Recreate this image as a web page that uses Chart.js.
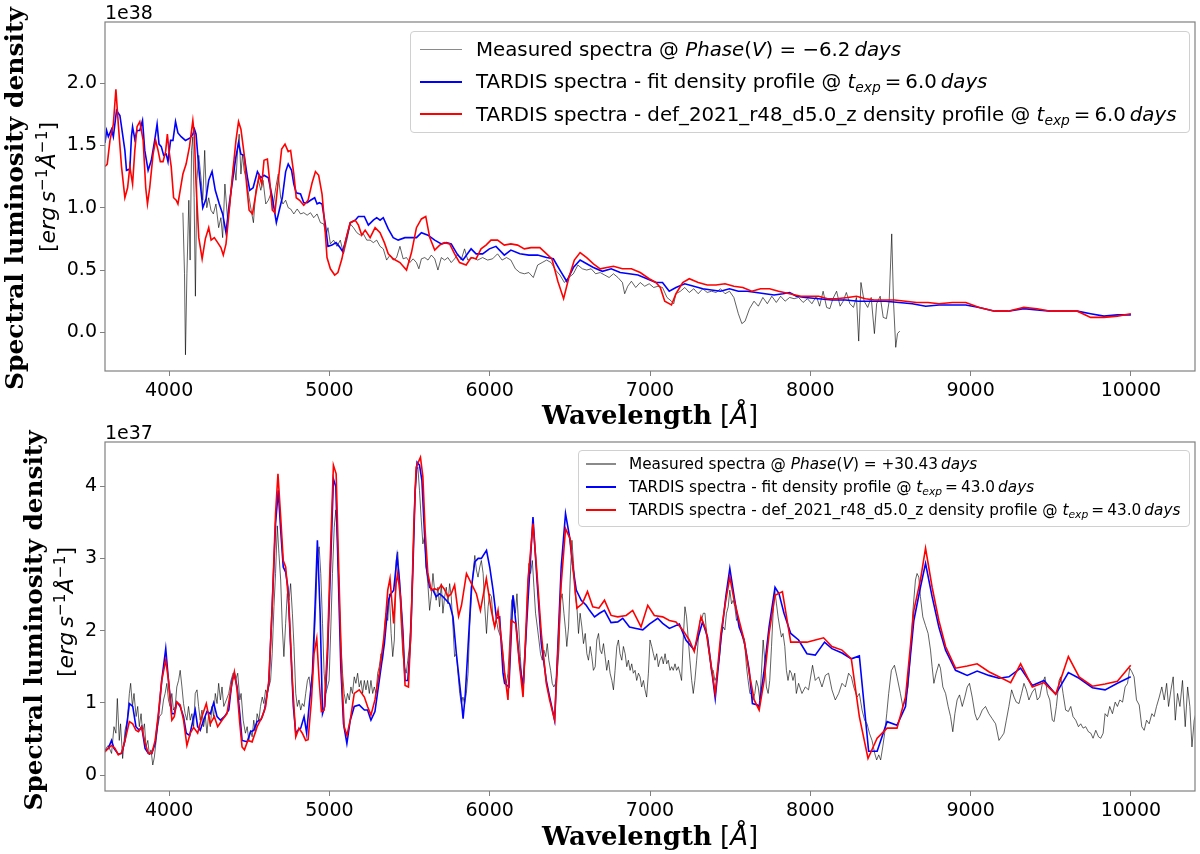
<!DOCTYPE html>
<html>
<head>
<meta charset="utf-8">
<title>TARDIS spectra comparison</title>
<script src="https://cdn.jsdelivr.net/npm/chart.js@4.4.1/dist/chart.umd.min.js"></script>
<style>
  html, body { margin: 0; padding: 0; background: #fff; }
  body { width: 1200px; height: 854px; position: relative; overflow: hidden;
         font-family: "DejaVu Sans", sans-serif; color: #000; }
  canvas { position: absolute; left: 0; }
  .legend { position: absolute; border: 1px solid #d0d0d0; border-radius: 4px;
            background: rgba(255,255,255,0.8); box-sizing: border-box; }
  .legend .row { display: flex; align-items: center; white-space: nowrap; }
  .legend .sw { display: inline-block; flex: none; }
  .ttl { position: absolute; white-space: nowrap; line-height: 1; }
  .serif { font-family: "DejaVu Serif", serif; font-weight: bold; }
  sub, sup { font-size: 0.7em; line-height: 0; }
  sup { vertical-align: 0.5em; }
  sub { vertical-align: -0.28em; }
</style>
</head>
<body>
<canvas id="topChart" width="1200" height="430" style="top:0"></canvas>
<canvas id="botChart" width="1200" height="434" style="top:420px"></canvas>

<div class="legend" style="left:410px;top:31px;width:780px;height:102px;padding:1px 0 0 9px;font-size:19.8px">
  <div class="row" style="height:32.5px"><span class="sw" style="width:42px;height:1.5px;margin-right:14px;background:#8a8a8a"></span><span>Measured spectra @ <i>Phase</i>(<i>V</i>) = −6.2&#8201;<i>days</i></span></div>
  <div class="row" style="height:32.5px"><span class="sw" style="width:42px;height:2px;margin-right:14px;background:#0000ff"></span><span>TARDIS spectra - fit density profile @ <i>t</i><sub><i>exp</i></sub>&#8201;=&#8201;6.0&#8201;<i>days</i></span></div>
  <div class="row" style="height:32.5px"><span class="sw" style="width:42px;height:2px;margin-right:14px;background:#ff0000"></span><span>TARDIS spectra - def_2021_r48_d5.0_z density profile @ <i>t</i><sub><i>exp</i></sub>&#8201;=&#8201;6.0&#8201;<i>days</i></span></div>
</div>

<div class="legend" style="left:578px;top:450px;width:612px;height:77px;padding:1.5px 0 0 7px;font-size:15.3px">
  <div class="row" style="height:23px"><span class="sw" style="width:30px;height:1.2px;margin-right:13px;background:#8a8a8a"></span><span>Measured spectra @ <i>Phase</i>(<i>V</i>) = +30.43&#8201;<i>days</i></span></div>
  <div class="row" style="height:23px"><span class="sw" style="width:30px;height:1.6px;margin-right:13px;background:#0000ff"></span><span>TARDIS spectra - fit density profile @ <i>t</i><sub><i>exp</i></sub>&#8201;=&#8201;43.0&#8201;<i>days</i></span></div>
  <div class="row" style="height:23px"><span class="sw" style="width:30px;height:1.6px;margin-right:13px;background:#ff0000"></span><span>TARDIS spectra - def_2021_r48_d5.0_z density profile @ <i>t</i><sub><i>exp</i></sub>&#8201;=&#8201;43.0&#8201;<i>days</i></span></div>
</div>

<div class="ttl serif" id="yTop1" style="font-size:26px">Spectral luminosity density</div>
<div class="ttl" id="yTop2" style="font-size:22px">[<i>erg</i>&#8201;<i>s</i><sup>−1</sup><i>Å</i><sup>−1</sup>]</div>
<div class="ttl" id="xTop" style="font-size:26px"><span class="serif">Wavelength</span> [<i style="font-family:'DejaVu Sans'">Å</i>]</div>
<div class="ttl serif" id="yBot1" style="font-size:26px">Spectral luminosity density</div>
<div class="ttl" id="yBot2" style="font-size:22px">[<i>erg</i>&#8201;<i>s</i><sup>−1</sup><i>Å</i><sup>−1</sup>]</div>
<div class="ttl" id="xBot" style="font-size:26px"><span class="serif">Wavelength</span> [<i style="font-family:'DejaVu Sans'">Å</i>]</div>

<script>
// ---- upper panel: Phase(V) = -6.2 d, t_exp = 6 d (units of 1e38) ----
const xTicks = [4000, 5000, 6000, 7000, 8000, 9000, 10000];
const topYTicks = [0, 0.5, 1.0, 1.5, 2.0];
const botYTicks = [0, 1, 2, 3, 4];

const topMeasuredWl = [4086,4096,4102,4111,4123,4131,4140,4148,4156,4164,
  4173,4185,4200,4210,4222,4235,4247,4261,4276,4292,
  4309,4323,4334,4348,4365,4379,4392,4404,4417,4427,
  4437,4448,4458,4468,4483,4499,4516,4526,4541,4557,
  4572,4586,4603,4619,4634,4648,4665,4681,4696,4710,
  4727,4743,4758,4778,4799,4820,4840,4861,4882,4902,
  4923,4944,4964,4979,4991,5006,5026,5047,5068,5088,
  5109,5130,5150,5171,5192,5212,5233,5254,5274,5295,
  5316,5336,5357,5378,5398,5419,5440,5460,5481,5502,
  5522,5543,5558,5574,5595,5615,5636,5657,5677,5698,
  5719,5739,5760,5781,5801,5822,5843,5863,5894,5925,
  5956,5987,6018,6049,6077,6105,6132,6160,6188,6216,
  6244,6272,6299,6327,6355,6383,6411,6438,6466,6494,
  6522,6550,6578,6605,6633,6661,6689,6717,6745,6772,
  6800,6828,6842,6861,6884,6911,6939,6967,6995,7023,
  7050,7078,7106,7134,7148,7162,7190,7217,7245,7273,
  7301,7329,7357,7384,7412,7440,7468,7496,7523,7551,
  7573,7593,7621,7649,7676,7704,7732,7760,7788,7815,
  7843,7871,7899,7927,7955,7982,8010,8038,8058,8080,
  8102,8122,8141,8164,8186,8205,8225,8247,8269,8288,
  8302,8316,8336,8358,8380,8400,8414,8436,8455,8475,
  8492,8508,8519,8533,8544,8558];
const topMeasuredL = [0.96,0.47,-0.18,0.47,1.06,0.58,1.46,1.57,1.08,0.29,
  1.22,1.42,1.22,1.06,1.46,1.00,1.08,0.98,0.95,1.03,
  0.84,0.92,0.76,1.19,0.90,1.02,1.22,1.37,1.22,1.46,
  1.59,1.27,1.43,1.30,1.22,1.08,0.95,0.88,1.14,1.22,
  1.14,1.22,1.03,1.06,1.11,1.00,1.16,1.27,1.08,1.03,
  1.06,1.00,0.99,0.95,0.99,0.95,0.96,0.94,0.96,0.92,
  0.95,0.88,0.87,0.78,0.84,0.71,0.74,0.69,0.74,0.63,
  0.74,0.87,0.84,0.80,0.78,0.79,0.74,0.74,0.72,0.74,
  0.69,0.67,0.58,0.62,0.58,0.60,0.69,0.59,0.60,0.56,
  0.59,0.56,0.51,0.59,0.60,0.58,0.62,0.59,0.50,0.60,
  0.58,0.60,0.56,0.59,0.63,0.58,0.67,0.58,0.60,0.58,
  0.60,0.58,0.59,0.63,0.58,0.60,0.58,0.51,0.48,0.47,
  0.48,0.44,0.54,0.56,0.58,0.56,0.50,0.46,0.40,0.44,
  0.47,0.54,0.51,0.50,0.51,0.47,0.48,0.46,0.44,0.47,
  0.44,0.40,0.31,0.37,0.41,0.36,0.40,0.37,0.39,0.36,
  0.37,0.36,0.28,0.25,0.23,0.31,0.33,0.36,0.32,0.35,
  0.31,0.35,0.32,0.33,0.32,0.35,0.31,0.33,0.28,0.15,
  0.07,0.09,0.19,0.25,0.21,0.28,0.23,0.29,0.24,0.29,
  0.25,0.28,0.27,0.28,0.24,0.27,0.23,0.29,0.21,0.33,
  0.20,0.19,0.27,0.33,0.21,0.25,0.32,0.23,0.20,0.28,
  -0.07,0.40,0.25,0.20,0.28,-0.01,0.23,0.29,0.12,0.11,
  0.25,0.79,0.25,-0.12,-0.01,0.01];

const topFitWl = [3600,3610,3621,3641,3652,3672,3693,3724,3734,3755,
  3765,3772,3786,3800,3817,3834,3848,3869,3889,3910,
  3925,3937,3951,3966,3982,3993,4009,4024,4040,4055,
  4075,4102,4131,4148,4158,4168,4189,4210,4230,4247,
  4268,4288,4313,4334,4355,4375,4396,4417,4433,4448,
  4468,4489,4503,4524,4551,4572,4592,4619,4644,4669,
  4689,4706,4727,4743,4764,4778,4793,4820,4840,4861,
  4882,4908,4923,4937,4954,4975,4991,5016,5041,5061,
  5082,5103,5130,5161,5181,5218,5243,5274,5295,5316,
  5336,5367,5398,5429,5471,5512,5543,5574,5615,5657,
  5698,5729,5760,5801,5833,5884,5915,5956,5998,6039,
  6091,6132,6188,6244,6299,6355,6397,6438,6480,6522,
  6564,6605,6647,6703,6758,6814,6870,6925,6981,7037,
  7078,7120,7162,7217,7273,7329,7384,7440,7496,7551,
  7607,7663,7718,7774,7830,7871,7913,7968,8052,8135,
  8219,8302,8386,8469,8553,8636,8720,8803,8887,8970,
  9054,9151,9234,9332,9415,9499,9582,9666,9749,9832,
  9916,10000];
const topFitL = [1.52,1.62,1.57,1.63,1.57,1.78,1.74,1.46,1.30,1.31,
  1.57,1.65,1.55,1.62,1.62,1.70,1.46,1.30,1.38,1.54,
  1.67,1.51,1.49,1.42,1.43,1.37,1.54,1.54,1.69,1.60,
  1.57,1.54,1.56,1.59,1.63,1.59,1.26,1.00,1.07,1.22,
  1.29,1.14,1.03,0.95,0.80,1.03,1.22,1.41,1.52,1.43,
  1.42,1.24,1.14,1.16,1.29,1.24,1.26,1.24,1.08,0.88,
  0.99,1.08,1.29,1.35,1.30,1.19,1.12,1.11,1.04,1.04,
  1.06,1.08,1.03,1.04,1.03,0.86,0.69,0.70,0.72,0.69,
  0.65,0.74,0.88,0.90,0.93,0.93,0.86,0.90,0.92,0.90,
  0.92,0.83,0.76,0.74,0.76,0.76,0.76,0.80,0.78,0.74,
  0.71,0.72,0.71,0.62,0.58,0.67,0.63,0.63,0.67,0.69,
  0.62,0.66,0.63,0.62,0.62,0.60,0.59,0.50,0.41,0.52,
  0.58,0.55,0.52,0.49,0.51,0.48,0.47,0.46,0.43,0.40,
  0.40,0.33,0.36,0.39,0.37,0.35,0.34,0.33,0.35,0.33,
  0.33,0.32,0.31,0.30,0.31,0.32,0.29,0.28,0.27,0.26,
  0.26,0.25,0.25,0.25,0.24,0.23,0.21,0.22,0.22,0.22,
  0.20,0.17,0.17,0.19,0.18,0.17,0.17,0.17,0.15,0.13,
  0.14,0.14];

const topDefWl = [3600,3614,3631,3652,3668,3683,3703,3724,3741,3755,
  3772,3786,3800,3817,3838,3854,3865,3879,3900,3916,
  3931,3945,3962,3978,3989,3999,4013,4028,4044,4055,
  4069,4086,4106,4127,4148,4158,4168,4185,4206,4226,
  4247,4262,4282,4303,4323,4338,4355,4375,4396,4417,
  4433,4448,4468,4483,4499,4520,4541,4561,4578,4592,
  4613,4627,4644,4660,4681,4702,4723,4743,4758,4778,
  4793,4814,4840,4867,4892,4913,4933,4954,4971,4985,
  5006,5033,5053,5078,5103,5130,5161,5181,5202,5223,
  5254,5285,5316,5343,5367,5398,5440,5481,5512,5543,
  5574,5601,5626,5657,5688,5719,5750,5781,5812,5853,
  5884,5915,5946,5977,6008,6049,6091,6132,6174,6216,
  6258,6313,6355,6388,6425,6461,6494,6528,6564,6605,
  6647,6689,6731,6772,6828,6884,6939,6995,7037,7064,
  7092,7134,7162,7204,7245,7301,7357,7412,7468,7523,
  7579,7635,7690,7746,7802,7871,7941,7996,8052,8108,
  8163,8233,8288,8344,8400,8455,8525,8595,8664,8734,
  8803,8887,8970,9054,9151,9234,9332,9415,9499,9582,
  9666,9749,9832,9916,10000];
const topDefL = [1.33,1.35,1.54,1.67,1.95,1.67,1.33,1.08,1.16,1.33,
  1.19,1.46,1.65,1.69,1.54,1.16,1.03,1.16,1.43,1.54,
  1.46,1.37,1.37,1.45,1.59,1.46,1.33,1.08,1.06,1.03,
  1.14,1.27,1.35,1.49,1.70,1.57,1.19,0.76,0.59,0.75,
  0.84,0.74,0.76,0.72,0.68,0.62,0.71,0.98,1.27,1.54,
  1.69,1.63,1.43,1.19,0.98,0.95,1.11,1.26,1.19,1.38,
  1.39,1.22,0.98,0.96,1.22,1.47,1.51,1.45,1.46,1.27,
  1.08,1.06,1.02,1.06,1.20,1.29,1.26,1.11,0.86,0.60,
  0.51,0.46,0.48,0.59,0.75,0.88,0.90,0.86,0.78,0.82,
  0.76,0.84,0.80,0.72,0.63,0.59,0.56,0.50,0.64,0.84,
  0.91,0.93,0.76,0.66,0.70,0.72,0.71,0.63,0.56,0.54,
  0.60,0.59,0.67,0.70,0.74,0.74,0.70,0.71,0.70,0.67,
  0.68,0.68,0.63,0.59,0.41,0.27,0.44,0.58,0.64,0.60,
  0.55,0.51,0.52,0.53,0.51,0.51,0.48,0.43,0.40,0.36,
  0.25,0.22,0.31,0.40,0.43,0.40,0.38,0.38,0.39,0.37,
  0.36,0.33,0.35,0.35,0.33,0.31,0.29,0.29,0.29,0.27,
  0.27,0.28,0.29,0.27,0.26,0.26,0.26,0.25,0.24,0.24,
  0.23,0.24,0.24,0.20,0.17,0.17,0.20,0.19,0.17,0.17,
  0.17,0.12,0.12,0.13,0.15];

// ---- lower panel: Phase(V) = +30.43 d, t_exp = 43 d (units of 1e37) ----
const botMeasuredWl = [3599,3620,3641,3656,3668,3677,3689,3697,3710,3725,
  3739,3752,3760,3771,3781,3794,3804,3814,3825,3835,
  3846,3856,3867,3877,3887,3898,3908,3919,3929,3940,
  3954,3965,3975,3986,3996,4006,4017,4027,4038,4048,
  4059,4069,4080,4090,4100,4111,4121,4132,4142,4153,
  4163,4174,4184,4194,4205,4215,4226,4236,4247,4257,
  4267,4278,4288,4299,4309,4320,4330,4341,4357,4372,
  4386,4399,4414,4428,4441,4449,4462,4476,4487,4497,
  4508,4518,4528,4539,4549,4560,4570,4581,4591,4602,
  4612,4622,4633,4643,4654,4664,4675,4685,4696,4706,
  4716,4727,4737,4748,4758,4769,4779,4790,4800,4810,
  4821,4831,4842,4852,4863,4873,4883,4894,4904,4915,
  4925,4936,4946,4957,4967,4977,4988,4998,5009,5019,
  5030,5040,5050,5061,5071,5082,5092,5103,5113,5124,
  5134,5144,5155,5165,5176,5186,5197,5207,5218,5228,
  5238,5249,5259,5270,5280,5291,5301,5311,5322,5332,
  5343,5353,5364,5374,5385,5395,5405,5416,5426,5437,
  5447,5458,5468,5479,5489,5499,5510,5520,5531,5541,
  5552,5562,5572,5583,5593,5604,5614,5625,5635,5646,
  5656,5666,5677,5687,5698,5708,5719,5729,5740,5750,
  5760,5771,5781,5792,5802,5813,5823,5833,5844,5854,
  5865,5875,5886,5896,5907,5917,5927,5938,5948,5959,
  5969,5980,5990,6000,6011,6021,6032,6042,6053,6074,
  6083,6093,6104,6114,6125,6137,6149,6160,6170,6181,
  6191,6201,6212,6224,6234,6245,6255,6266,6276,6286,
  6297,6307,6317,6328,6338,6349,6359,6369,6380,6390,
  6400,6411,6421,6432,6442,6452,6463,6473,6481,6492,
  6502,6513,6523,6533,6544,6554,6564,6575,6585,6596,
  6606,6616,6627,6637,6647,6658,6668,6679,6689,6699,
  6710,6720,6730,6741,6751,6762,6772,6782,6793,6803,
  6813,6824,6834,6845,6855,6865,6876,6886,6896,6907,
  6917,6928,6938,6948,6959,6969,6979,6990,7000,7011,
  7021,7031,7042,7052,7062,7073,7083,7094,7104,7114,
  7125,7135,7145,7156,7166,7177,7187,7197,7208,7218,
  7228,7239,7249,7260,7270,7280,7291,7301,7311,7322,
  7332,7343,7353,7363,7374,7384,7394,7405,7415,7426,
  7436,7446,7457,7467,7477,7488,7498,7509,7519,7529,
  7540,7550,7560,7571,7581,7592,7602,7612,7623,7633,
  7643,7654,7664,7675,7685,7695,7706,7716,7726,7737,
  7747,7758,7768,7778,7789,7799,7809,7820,7830,7841,
  7851,7861,7872,7882,7892,7903,7913,
  7927,7948,7969,7989,8014,8031,8052,8073,8094,8114,
  8135,8156,8177,8198,8219,8239,8256,8271,8292,8306,
  8323,8339,8354,8369,8385,8402,8414,8427,8439,8452,
  8464,8477,8489,8506,8525,8541,8562,8577,8594,8610,
  8625,8639,8656,8666,8677,8687,8702,8719,8735,8750,
  8760,8771,8785,8802,8812,8827,8844,8860,8875,8889,
  8902,8916,8931,8948,8964,8979,8993,9010,9027,9041,
  9056,9073,9093,9114,9135,9156,9177,9193,9208,9223,
  9239,9256,9271,9285,9302,9318,9333,9348,9364,9385,
  9402,9416,9431,9448,9464,9479,9494,9510,9521,9535,
  9552,9562,9577,9593,9610,9625,9639,9656,9673,9687,
  9702,9718,9735,9750,9764,9781,9798,9812,9827,9839,
  9854,9868,9885,9902,9916,9931,9948,9964,9979,9993,
  10006,10020,10035,10052,10068,10083,10098,10114,10131,10145,
  10160,10177,10193,10208,10223,10235,10250,10264,10277,10291,
  10306,10322,10339,10354,10368,10381,10395,10416];
const botMeasuredL = [0.35,0.41,0.30,0.67,0.58,1.06,0.48,0.71,0.23,0.62,
  0.76,1.13,1.27,0.95,1.13,0.81,0.95,0.67,0.85,0.58,
  0.71,0.39,0.48,0.28,0.35,0.14,0.25,0.48,0.67,0.81,
  0.85,1.04,1.13,1.27,1.04,0.95,1.13,0.90,0.95,1.22,
  1.31,1.45,1.22,0.99,0.85,0.76,0.95,0.76,0.85,0.67,
  1.13,1.18,0.95,0.76,0.90,0.67,0.81,0.58,0.85,0.67,
  0.95,0.81,1.13,0.99,1.27,1.04,1.22,0.95,1.04,1.13,
  1.31,1.41,1.31,1.41,1.04,1.13,0.76,0.58,0.67,0.48,
  0.62,0.53,0.76,0.58,0.85,0.76,0.95,1.08,0.99,1.18,
  1.13,1.22,1.31,1.68,2.33,2.79,3.45,3.07,2.70,2.05,
  1.64,2.10,2.51,2.42,2.65,2.24,1.78,1.13,0.95,1.04,
  0.90,0.99,0.95,1.13,1.31,1.36,1.18,1.41,1.78,2.33,
  3.02,3.16,2.79,2.10,1.41,1.13,1.22,1.31,2.05,2.79,
  3.43,3.67,3.25,2.51,1.87,1.41,1.13,0.99,1.13,1.04,
  1.22,1.13,1.36,1.27,1.41,1.22,1.31,1.13,1.31,1.18,
  1.31,1.13,1.31,1.13,1.22,1.13,1.41,1.50,1.68,1.59,
  2.05,2.24,2.14,2.51,1.96,1.64,1.87,2.97,3.09,2.70,
  2.10,1.68,1.50,1.41,1.59,1.78,2.24,2.88,3.71,4.22,
  4.26,3.94,3.57,3.20,3.30,2.88,2.65,2.28,2.47,2.79,
  2.56,2.42,2.60,2.33,2.65,2.24,2.47,2.60,2.37,2.65,
  2.47,2.05,1.64,1.68,1.41,1.13,0.99,1.08,0.99,1.13,
  1.41,2.05,2.47,2.79,3.04,2.84,2.74,2.88,2.97,2.79,
  2.33,1.96,2.33,2.51,2.47,2.14,2.05,2.14,2.01,1.87,
  1.68,1.41,1.27,1.41,1.87,2.42,2.47,2.24,2.51,2.05,
  1.64,1.31,1.27,1.78,2.47,2.93,2.79,2.97,2.60,2.24,
  2.05,1.87,1.68,1.59,1.73,1.64,1.82,1.59,1.45,1.27,
  1.22,1.27,1.41,1.73,2.42,2.51,2.24,2.01,1.78,2.05,
  2.70,3.25,2.93,2.51,2.33,1.96,2.24,2.05,1.82,1.96,
  1.68,1.59,1.78,1.64,1.45,1.50,1.87,1.96,1.73,1.68,
  1.82,1.64,1.45,1.59,1.41,1.31,1.18,1.45,1.78,1.87,
  1.68,1.59,1.78,1.68,1.50,1.59,1.45,1.54,1.41,1.45,
  1.31,1.41,1.36,1.22,1.31,1.18,1.08,1.41,1.87,1.78,
  1.68,1.59,1.68,1.50,1.59,1.64,1.54,1.68,1.54,1.59,
  1.45,1.50,1.45,1.54,1.45,1.50,1.41,1.31,1.91,2.33,
  2.19,1.87,1.59,1.31,1.13,1.31,1.59,1.87,2.14,2.14,
  2.24,2.24,1.96,1.78,1.59,1.41,1.45,1.31,1.36,1.50,
  1.68,1.96,2.05,2.01,2.24,2.33,2.56,2.37,2.42,2.33,
  2.14,2.19,2.05,1.96,1.87,1.78,1.50,1.31,1.13,1.13,
  1.04,1.13,1.31,1.22,1.04,1.41,1.87,1.59,1.22,1.13,
  1.31,1.78,2.24,2.56,2.37,2.19,2.05,1.91,1.96,1.78,
  1.45,1.31,1.45,1.41,1.31,1.41,1.13,
  1.27,1.13,1.22,1.18,1.52,1.31,1.36,1.22,1.38,1.41,
  1.18,1.04,1.13,1.27,1.22,1.41,1.36,1.22,1.08,1.13,
  0.90,0.76,0.71,0.58,0.48,0.30,0.21,0.28,0.21,0.39,
  0.58,0.85,1.13,1.45,1.52,1.36,1.13,0.95,1.04,1.22,
  1.68,2.24,2.70,2.79,2.74,2.47,2.19,2.07,1.96,1.73,
  1.50,1.27,1.41,1.54,1.48,1.22,1.13,0.95,0.81,0.60,
  0.85,1.04,1.11,0.95,1.08,1.22,1.27,1.08,0.85,0.76,
  0.81,0.90,0.95,0.85,0.78,0.71,0.48,0.53,0.58,0.76,
  0.95,1.18,1.08,1.01,0.99,1.13,1.27,1.18,1.04,1.15,
  1.20,1.04,1.08,1.27,1.36,1.13,1.04,0.76,0.74,0.95,
  1.31,1.36,1.13,0.90,0.88,0.95,0.81,0.76,0.67,0.71,
  0.65,0.67,0.60,0.58,0.51,0.62,0.53,0.51,0.58,0.85,
  0.81,0.95,0.85,1.01,0.95,1.04,1.01,1.22,1.27,1.48,
  1.43,1.36,1.04,0.97,0.67,0.62,0.76,0.71,0.85,0.81,
  0.95,1.08,1.22,1.04,1.27,0.95,1.18,1.36,0.76,1.13,
  0.95,1.31,0.67,1.22,0.95,0.39,0.76,0.95];

const botFitWl = [3599,3620,3641,3656,3683,3704,3725,3752,3773,3793,
  3814,3829,3850,3871,3892,3913,3933,3954,3979,3996,
  4017,4032,4048,4069,4090,4107,4128,4149,4163,4178,
  4194,4215,4236,4257,4278,4299,4320,4345,4372,4393,
  4407,4424,4441,4455,4487,4508,4528,4549,4574,4595,
  4622,4643,4664,4681,4696,4712,4727,4741,4758,4775,
  4790,4804,4821,4842,4858,4873,4894,4911,4925,4942,
  4957,4971,4988,5009,5025,5040,5055,5071,5088,5109,
  5130,5155,5186,5218,5238,5259,5284,5311,5343,5368,
  5384,5401,5422,5437,5458,5472,5489,5506,5520,5535,
  5547,5562,5577,5589,5604,5625,5646,5666,5687,5708,
  5729,5750,5771,5792,5819,5834,5848,5865,5886,5907,
  5928,5948,5980,6000,6021,6042,6062,6083,6093,6120,
  6145,6166,6187,6208,6239,6270,6295,6322,6353,6374,
  6405,6425,6446,6473,6498,6519,6540,6571,6602,6623,
  6654,6685,6716,6757,6799,6830,6872,6913,6955,6996,
  7048,7079,7121,7183,7224,7276,7328,7359,7407,7442,
  7473,7498,7525,7556,7587,7619,7639,7670,7681,7712,
  7743,7780,7805,7836,7878,7927,7979,8031,8089,8135,
  8198,8256,8306,8364,8417,8479,8541,8594,8646,8687,
  8719,8760,8802,8844,8906,8979,9041,9114,9177,9239,
  9312,9385,9458,9531,9610,9677,9760,9839,9916,9999];
const botFitL = [0.34,0.37,0.48,0.37,0.29,0.30,0.48,0.99,0.95,0.67,
  0.62,0.67,0.37,0.30,0.30,0.44,0.81,1.31,1.75,1.31,
  0.85,0.85,1.01,0.95,0.81,0.58,0.55,0.76,0.90,0.67,
  0.62,0.76,0.88,0.85,1.00,0.81,0.76,0.81,0.90,1.31,
  1.41,1.22,0.85,0.48,0.46,0.60,0.62,0.74,0.77,0.90,
  1.27,2.33,3.48,3.94,3.39,2.88,2.81,2.60,1.78,0.95,
  0.58,0.62,0.65,0.81,0.58,0.95,1.41,2.37,3.25,2.24,
  0.85,0.95,1.64,3.02,4.10,3.99,2.79,1.50,0.71,0.44,
  0.76,0.95,0.97,0.90,0.90,0.76,0.88,1.31,1.82,2.42,
  2.51,2.56,3.02,2.70,2.01,1.31,1.31,1.87,2.79,3.94,
  4.33,4.29,4.08,3.53,2.88,2.60,2.56,2.47,2.51,2.47,
  2.42,2.37,2.19,1.68,1.13,0.78,1.13,1.78,2.60,2.95,
  3.00,3.00,3.11,2.88,2.56,2.17,2.19,1.41,1.27,1.22,
  2.49,2.05,1.54,1.22,2.42,3.57,2.70,1.82,1.31,1.08,
  0.76,1.78,2.88,3.62,3.30,2.88,2.56,2.42,2.35,2.28,
  2.19,2.24,2.28,2.11,2.12,2.17,2.05,2.03,2.01,2.09,
  2.17,2.10,2.03,2.09,1.87,1.73,2.12,1.91,1.06,1.87,
  2.47,2.86,2.47,2.05,1.87,1.45,0.99,0.97,0.95,1.45,
  2.05,2.60,2.51,2.24,1.96,1.87,1.68,1.66,1.84,1.75,
  1.69,1.61,1.65,0.33,0.33,0.74,0.69,0.95,2.14,2.60,
  2.93,2.47,2.05,1.73,1.45,1.38,1.44,1.38,1.34,1.36,
  1.48,1.24,1.31,1.12,1.42,1.34,1.21,1.18,1.27,1.36];

const botDefWl = [3599,3620,3641,3662,3683,3704,3725,3752,3773,3793,
  3808,3829,3850,3871,3892,3913,3933,3954,3979,3996,
  4017,4032,4048,4069,4090,4111,4132,4153,4178,4205,
  4232,4257,4282,4303,4330,4361,4386,4407,4424,4441,
  4455,4470,4491,4518,4549,4581,4602,4622,4643,4664,
  4679,4696,4712,4727,4748,4769,4790,4810,4831,4852,
  4867,4888,4904,4921,4936,4950,4967,4988,5009,5025,
  5042,5059,5076,5092,5109,5130,5155,5186,5218,5238,
  5259,5284,5311,5343,5364,5378,5389,5401,5416,5426,
  5443,5458,5472,5493,5510,5527,5541,5568,5583,5597,
  5614,5635,5656,5677,5698,5715,5740,5760,5781,5806,
  5824,5855,5886,5917,5942,5979,6010,6031,6052,6073,
  6093,6114,6135,6162,6187,6208,6239,6270,6295,6322,
  6353,6374,6405,6425,6446,6473,6502,6523,6544,6577,
  6610,6643,6681,6716,6757,6799,6851,6892,6944,6986,
  7027,7079,7121,7162,7204,7245,7276,7318,7349,7407,
  7442,7473,7498,7525,7556,7587,7619,7650,7681,7712,
  7743,7780,7826,7878,7927,7979,8031,8083,8135,8198,
  8256,8306,8360,8417,8479,8541,8594,8646,8687,8719,
  8760,8802,8844,8906,8979,9041,9114,9177,9250,9312,
  9385,9458,9531,9610,9677,9760,9839,9916,9999];
const botDefL = [0.32,0.37,0.41,0.37,0.28,0.31,0.48,0.74,0.71,0.62,
  0.60,0.67,0.44,0.30,0.30,0.48,0.85,1.31,1.59,1.31,
  0.76,0.81,1.01,0.97,0.76,0.41,0.58,0.66,0.58,0.81,
  0.99,0.71,0.81,0.67,0.76,0.85,1.20,1.43,1.18,0.71,
  0.39,0.35,0.48,0.46,0.67,0.81,0.95,1.31,2.33,3.62,
  4.17,3.57,2.97,2.88,2.33,1.31,0.53,0.65,0.58,0.48,
  0.49,1.04,1.68,1.89,1.31,0.88,0.90,1.78,3.25,4.29,
  4.17,2.79,1.45,0.67,0.55,0.76,1.13,1.18,1.08,0.95,
  0.83,1.04,1.41,1.96,2.56,2.72,2.42,2.10,2.65,2.79,
  2.47,1.87,1.24,1.22,2.10,3.48,4.26,4.40,4.13,3.39,
  2.79,2.56,2.58,2.56,2.63,2.58,2.47,2.51,2.63,2.20,
  2.35,2.79,2.65,2.51,2.28,2.72,2.28,2.05,2.28,1.87,
  1.41,1.04,2.14,2.10,1.50,1.08,2.70,3.48,2.79,1.96,
  1.27,1.04,0.76,1.68,2.65,3.41,3.27,2.79,2.31,2.37,
  2.54,2.33,2.31,2.42,2.21,2.19,2.21,2.28,2.05,2.35,
  2.21,2.19,2.14,2.12,2.01,1.87,1.71,2.19,2.01,1.13,
  1.96,2.42,2.74,2.42,2.14,1.87,1.41,1.04,0.90,1.31,
  1.96,2.49,2.54,1.84,1.84,1.84,1.87,1.90,1.78,1.73,
  1.61,0.81,0.23,0.51,0.65,0.65,1.08,2.28,2.70,3.14,
  2.60,2.14,1.78,1.48,1.51,1.54,1.43,1.36,1.28,1.54,
  1.22,1.28,1.12,1.64,1.36,1.23,1.26,1.30,1.52];

function pairs(wl, lum) {
  return wl.map((w, i) => ({ x: w, y: lum[i] }));
}

// full box frame + matplotlib-like offset text ("1e38") above the axes
const framePlugin = {
  id: 'frame',
  afterDraw(chart, args, opts) {
    const { ctx, chartArea: a } = chart;
    ctx.save();
    ctx.strokeStyle = '#808080';
    ctx.lineWidth = 1.2;
    ctx.strokeRect(a.left, a.top, a.right - a.left, a.bottom - a.top);
    ctx.fillStyle = '#000';
    ctx.font = '19px "DejaVu Sans"';
    ctx.textBaseline = 'alphabetic';
    ctx.fillText(opts.offset, a.left, a.top - 3);
    ctx.restore();
  }
};

function spectrumChart(id, p) {
  return new Chart(document.getElementById(id), {
    type: 'line',
    data: {
      datasets: [
        { label: 'Measured spectra', data: pairs(p.measWl, p.measL), borderColor: 'rgba(0,0,0,0.62)', borderWidth: 1, order: 3 },
        { label: 'TARDIS fit', data: pairs(p.fitWl, p.fitL), borderColor: '#0000ff', borderWidth: 1.6, order: 2 },
        { label: 'TARDIS def_2021_r48_d5.0_z', data: pairs(p.defWl, p.defL), borderColor: '#ff0000', borderWidth: 1.6, order: 1 }
      ]
    },
    options: {
      responsive: false,
      animation: false,
      layout: { padding: { left: 0, right: 5, top: 22, bottom: 0 } },
      elements: { point: { radius: 0 }, line: { tension: 0 } },
      plugins: { legend: { display: false }, tooltip: { enabled: false }, frame: { offset: p.offset } },
      scales: {
        x: {
          type: 'linear', min: 3600, max: 10400,
          afterBuildTicks: s => { s.ticks = xTicks.map(v => ({ value: v })); },
          afterFit: s => { s.height = p.xAxisH; },
          grid: { drawOnChartArea: false, drawTicks: true, tickLength: 5, color: '#808080' },
          border: { display: false },
          ticks: { color: '#000', font: { family: 'DejaVu Sans', size: 19 }, padding: 4,
                   maxRotation: 0, autoSkip: false, callback: v => String(v) }
        },
        y: {
          type: 'linear', min: p.yMin, max: p.yMax,
          afterBuildTicks: s => { s.ticks = p.yTicks.map(v => ({ value: v })); },
          afterFit: s => { s.width = 105; },
          grid: { drawOnChartArea: false, drawTicks: true, tickLength: 5, color: '#808080' },
          border: { display: false },
          ticks: { color: '#000', font: { family: 'DejaVu Sans', size: 19 }, padding: 3,
                   autoSkip: false, callback: v => p.fmt(v) }
        }
      }
    },
    plugins: [framePlugin]
  });
}

spectrumChart('topChart', {
  measWl: topMeasuredWl, measL: topMeasuredL,
  fitWl: topFitWl, fitL: topFitL,
  defWl: topDefWl, defL: topDefL,
  yMin: -0.31, yMax: 2.49, yTicks: topYTicks, fmt: v => v.toFixed(1),
  offset: '1e38', xAxisH: 59
});
spectrumChart('botChart', {
  measWl: botMeasuredWl, measL: botMeasuredL,
  fitWl: botFitWl, fitL: botFitL,
  defWl: botDefWl, defL: botDefL,
  yMin: -0.22, yMax: 4.61, yTicks: botYTicks, fmt: v => String(v),
  offset: '1e37', xAxisH: 63
});

// axis titles: centre each block on a point, optionally rotated
function placeTitle(id, cx, cy, rotated, targetLen) {
  const el = document.getElementById(id);
  if (targetLen) {
    const fs = parseFloat(el.style.fontSize);
    el.style.fontSize = (fs * targetLen / el.offsetWidth).toFixed(2) + 'px';
  }
  const w = el.offsetWidth, h = el.offsetHeight;
  el.style.left = (cx - w / 2) + 'px';
  el.style.top = (cy - h / 2) + 'px';
  if (rotated) el.style.transform = 'rotate(-90deg)';
}
placeTitle('yTop1', 15, 198, true, 383);
placeTitle('yTop2', 48, 187, true, 0);
placeTitle('xTop', 650, 415, false, 0);
placeTitle('yBot1', 34, 620, true, 380);
placeTitle('yBot2', 66, 612, true, 0);
placeTitle('xBot', 650, 836, false, 0);
</script>
</body>
</html>
